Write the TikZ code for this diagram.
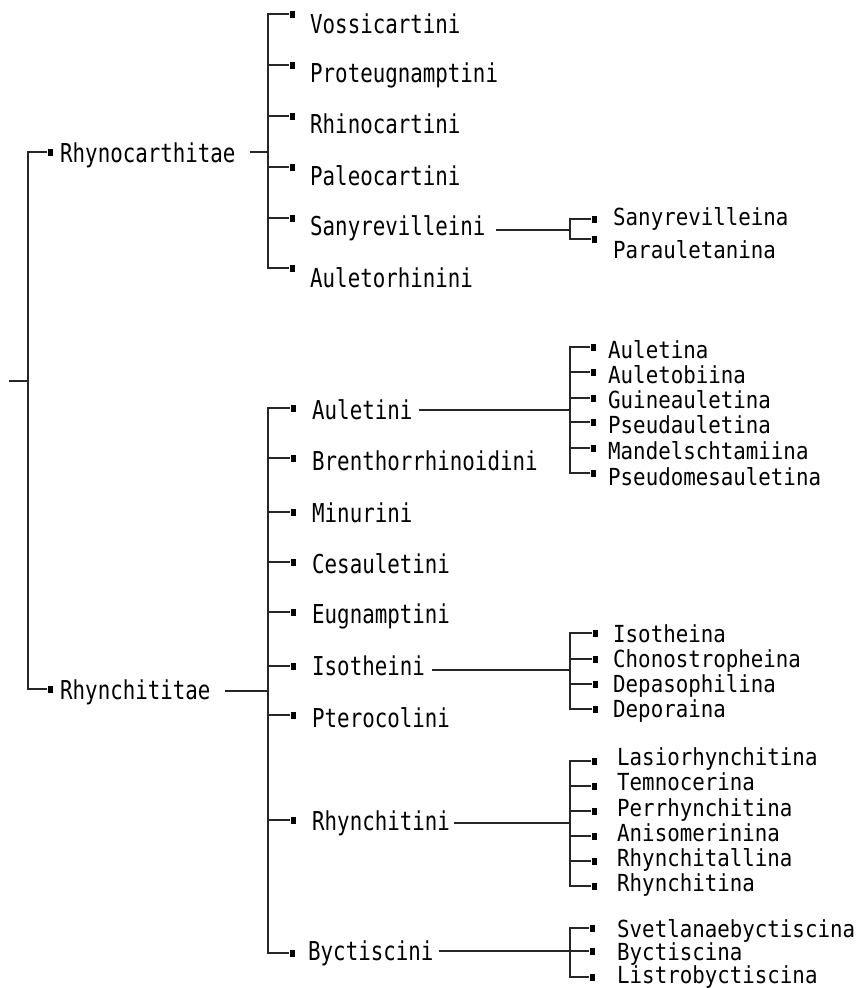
\documentclass[tikz,border=0pt]{standalone}
\usepackage{fontspec}
\newfontfamily\treefont[FakeStretch=0.8]{DejaVu Sans Mono}
\newfontfamily\subfont[FakeStretch=0.885]{DejaVu Sans Mono}
\usetikzlibrary{calc}

% one taxon: small square marker plus its name
% #1 name, #2 marker x, #3 marker y, #4 text x, #5 text baseline, #6 text
\newcommand\treeleaf[6]{%
  \node[tipsq] (s-#1) at (#2,#3) {};
  \node[lbl] (t-#1) at (#4,#5) {#6};}
% the same for subtribes, set a little shorter
\newcommand\subleaf[6]{%
  \node[tipsq] (s-#1) at (#2,#3) {};
  \node[sublbl] (t-#1) at (#4,#5) {#6};}

\begin{document}
\begin{tikzpicture}[x=1pt,y=-1pt,
  lbl/.style={anchor=base west, inner sep=0pt, text=black,
              font=\treefont\fontsize{26}{26}\selectfont},
  sublbl/.style={anchor=base west, inner sep=0pt, text=black,
              font=\subfont\fontsize{23.5}{23.5}\selectfont},
  tipsq/.style={fill=black, draw=none, inner sep=0pt,
                minimum width=5pt, minimum height=7pt},
  wire/.style={draw=black!85, line width=1.1pt}]
\useasboundingbox (0,0) rectangle (859,988);

% ---------- subfamily level ----------
\treeleaf{rhyno}{50}{152}{60}{162}{Rhynocarthitae}
\treeleaf{rhync}{50}{689}{60}{699}{Rhynchititae}
\coordinate (r0) at (28,381);
\coordinate (rstub) at (9,381);
\draw[wire] (s-rhyno.west) -- (r0 |- s-rhyno) -- (r0 |- s-rhync) -- (s-rhync.west);
\draw[wire] (rstub) -- (r0);

% ---------- tribes of Rhynocarthitae ----------
\coordinate (jA) at (268,152);
\treeleaf{voss}{292}{14}{310}{33}{Vossicartini}
\treeleaf{prot}{292}{65}{310}{82}{Proteugnamptini}
\treeleaf{rhin}{292}{116}{310}{133}{Rhinocartini}
\treeleaf{pale}{292}{167}{310}{185}{Paleocartini}
\treeleaf{sanyi}{292}{218}{310}{235}{Sanyrevilleini}
\treeleaf{aulr}{292}{268}{310}{287}{Auletorhinini}
\draw[wire] (s-voss.west) -- (jA |- s-voss) -- (jA |- s-aulr) -- (s-aulr.west);
\foreach \n in {prot,rhin,pale,sanyi}
  \draw[wire] (jA |- s-\n) -- (s-\n.west);
\draw[wire] ($(t-rhyno.east |- jA)+(14,0)$) -- (jA);

% subtribes of Sanyrevilleini
\coordinate (jS) at (570,230);
\subleaf{sanya}{594}{219}{613}{225}{Sanyrevilleina}
\subleaf{para}{594}{239}{613}{258}{Parauletanina}
\draw[wire] (s-sanya.west) -- (jS |- s-sanya) -- (jS |- s-para) -- (s-para.west);
\draw[wire] ($(t-sanyi.east |- jS)+(10,0)$) -- (jS);

% ---------- tribes of Rhynchititae ----------
\coordinate (jB) at (268,691);
\treeleaf{aulti}{293}{408}{312}{419}{Auletini}
\treeleaf{bren}{293}{458}{312}{470}{Brenthorrhinoidini}
\treeleaf{minu}{293}{512}{312}{522}{Minurini}
\treeleaf{cesa}{293}{562}{312}{573}{Cesauletini}
\treeleaf{eugn}{293}{612}{312}{623}{Eugnamptini}
\treeleaf{isoi}{293}{666}{312}{675}{Isotheini}
\treeleaf{pter}{293}{715}{312}{727}{Pterocolini}
\treeleaf{rhyi}{293}{820}{312}{830}{Rhynchitini}
\treeleaf{byci}{292}{953}{308}{960}{Byctiscini}
\draw[wire] (s-aulti.west) -- (jB |- s-aulti) -- (jB |- s-byci) -- (s-byci.west);
\foreach \n in {bren,minu,cesa,eugn,isoi,pter,rhyi}
  \draw[wire] (jB |- s-\n) -- (s-\n.west);
\draw[wire] ($(t-rhync.east |- jB)+(14,0)$) -- (jB);

% subtribes of Auletini
\coordinate (jU) at (570,410);
\subleaf{aulna}{593}{347}{608}{358}{Auletina}
\subleaf{aulob}{593}{372}{608}{383}{Auletobiina}
\subleaf{guin}{593}{398}{608}{408}{Guineauletina}
\subleaf{pseua}{593}{422}{608}{433}{Pseudauletina}
\subleaf{mand}{593}{448}{608}{459}{Mandelschtamiina}
\subleaf{pseum}{593}{473}{608}{485}{Pseudomesauletina}
\draw[wire] (s-aulna.west) -- (jU |- s-aulna) -- (jU |- s-pseum) -- (s-pseum.west);
\foreach \n in {aulob,guin,pseua,mand}
  \draw[wire] (jU |- s-\n) -- (s-\n.west);
\draw[wire] ($(t-aulti.east |- jU)+(6,0)$) -- (jU);

% subtribes of Isotheini
\coordinate (jI) at (570,670);
\subleaf{isona}{595}{633}{613}{642}{Isotheina}
\subleaf{chon}{595}{659}{613}{667}{Chonostropheina}
\subleaf{depa}{595}{684}{613}{692}{Depasophilina}
\subleaf{depo}{595}{709}{613}{717}{Deporaina}
\draw[wire] (s-isona.west) -- (jI |- s-isona) -- (jI |- s-depo) -- (s-depo.west);
\foreach \n in {chon,depa}
  \draw[wire] (jI |- s-\n) -- (s-\n.west);
\draw[wire] ($(t-isoi.east |- jI)+(7,0)$) -- (jI);

% subtribes of Rhynchitini
\coordinate (jR) at (570,823);
\subleaf{lasi}{594}{761}{617}{765}{Lasiorhynchitina}
\subleaf{temn}{594}{786}{617}{790}{Temnocerina}
\subleaf{perr}{594}{811}{617}{816}{Perrhynchitina}
\subleaf{anis}{594}{836}{617}{841}{Anisomerinina}
\subleaf{rhyal}{594}{861}{617}{866}{Rhynchitallina}
\subleaf{rhyna}{594}{886}{617}{891}{Rhynchitina}
\draw[wire] (s-lasi.west) -- (jR |- s-lasi) -- (jR |- s-rhyna) -- (s-rhyna.west);
\foreach \n in {temn,perr,anis,rhyal}
  \draw[wire] (jR |- s-\n) -- (s-\n.west);
\draw[wire] ($(t-rhyi.east |- jR)+(4,0)$) -- (jR);

% subtribes of Byctiscini
\coordinate (jY) at (570,951);
\subleaf{svet}{592}{928}{617}{937}{Svetlanaebyctiscina}
\subleaf{bycna}{592}{951}{617}{960}{Byctiscina}
\subleaf{list}{592}{977}{617}{983}{Listrobyctiscina}
\draw[wire] (s-svet.west) -- (jY |- s-svet) -- (jY |- s-list) -- (s-list.west);
\draw[wire] (jY |- s-bycna) -- (s-bycna.west);
\draw[wire] ($(t-byci.east |- jY)+(5,0)$) -- (jY);
\end{tikzpicture}
\end{document}
